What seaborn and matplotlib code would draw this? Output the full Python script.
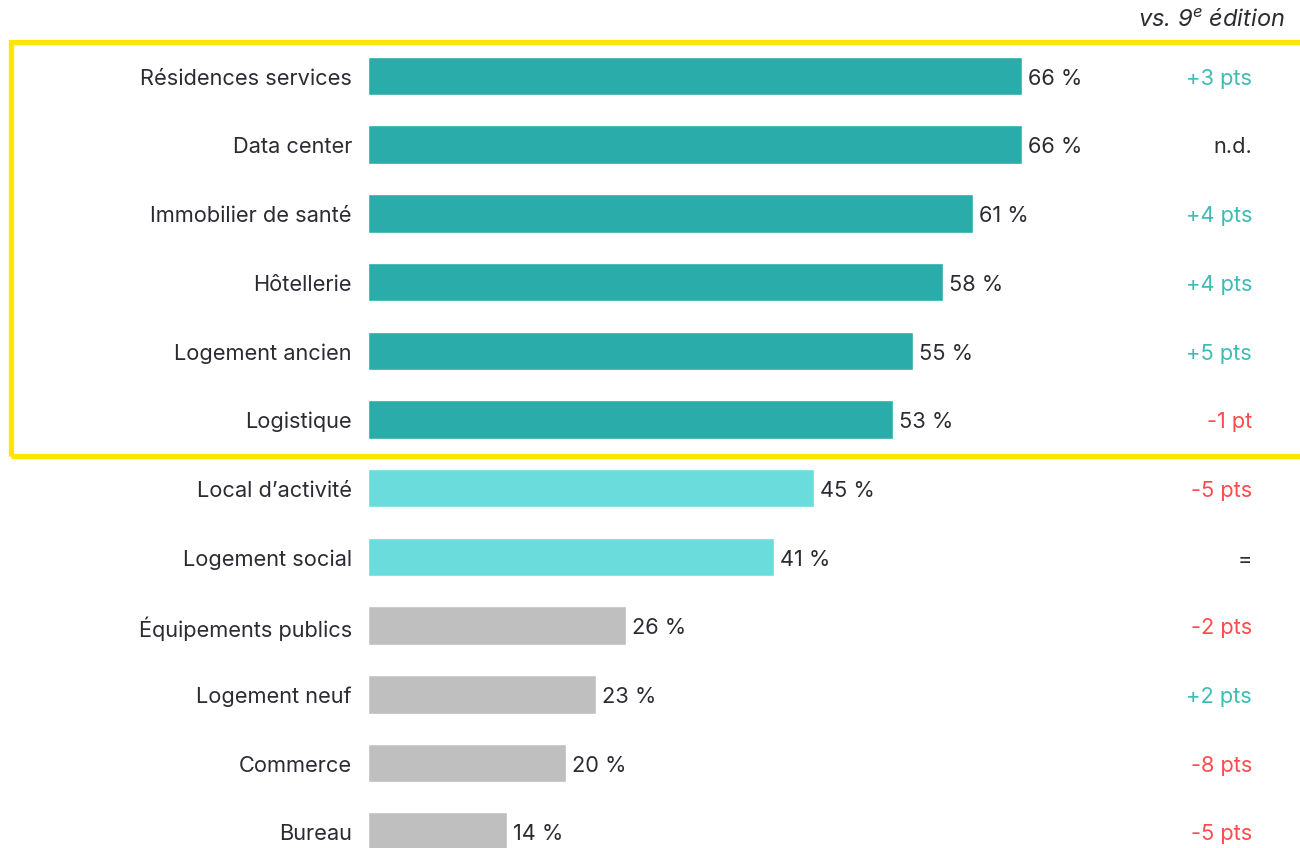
import matplotlib
matplotlib.use("Agg")
import matplotlib.pyplot as plt
from matplotlib.patches import Rectangle
import seaborn as sns
import pandas as pd

categories = [
    "Résidences services", "Data center", "Immobilier de santé", "Hôtellerie",
    "Logement ancien", "Logistique", "Local d\u2019activité", "Logement social",
    "Équipements publics", "Logement neuf", "Commerce", "Bureau",
]
values = [66, 66, 61, 58, 55, 53, 45, 41, 26, 23, 20, 14]
groups = ["top"] * 6 + ["mid"] * 2 + ["low"] * 4
deltas = ["+3 pts", "n.d.", "+4 pts", "+4 pts", "+5 pts", "-1 pt",
          "-5 pts", "=", "-2 pts", "+2 pts", "-8 pts", "-5 pts"]

palette = {"top": "#29ACAA", "mid": "#6ADCDC", "low": "#BFBFBF"}
TEXT = "#2B2B33"
POS = "#3DBBB5"
NEG = "#FF4B4B"

def delta_color(d):
    if d.startswith("+"):
        return POS
    if d.startswith("-"):
        return NEG
    return TEXT

df = pd.DataFrame({"cat": categories, "val": values, "grp": groups})

sns.set_theme(style="white")
plt.rcParams["font.family"] = ["Inter", "DejaVu Sans"]

W, H = 1300, 848
fig = plt.figure(figsize=(W / 100, H / 100), dpi=100)
ax = fig.add_axes([368 / W, 0, (W - 368) / W, 1])

sns.barplot(data=df, x="val", y="cat", hue="grp", palette=palette,
            dodge=False, legend=False, width=0.56, ax=ax, saturation=1)

px_per_unit = 9.91
step = 68.7
first = 76
ax.set_xlim(0, (W - 368) / px_per_unit)
ax.set_ylim((H - first) / step, -first / step)
ax.axis("off")

fs = 15.7
dy = 0.04
for i, (c, v, d) in enumerate(zip(categories, values, deltas)):
    ax.text(-16 / px_per_unit, i + dy, c, ha="right", va="center",
            fontsize=fs, color=TEXT, clip_on=False)
    ax.text(v + 6 / px_per_unit, i + dy, f"{v} %", ha="left", va="center",
            fontsize=fs, color=TEXT)
    ax.text((1252 - 368) / px_per_unit, i + dy, d, ha="right", va="center",
            fontsize=fs, color=delta_color(d))

fig.text(1285 / W, 1 - 21 / H, r"vs. 9$^{\mathregular{e}}$ édition",
         ha="right", va="center", fontsize=17, style="italic", color=TEXT)

# highlight frame around the leading segments
fig.patches.append(Rectangle((11 / W, 1 - 456 / H), (W + 20 - 11) / W,
                             (456 - 42) / H, transform=fig.transFigure,
                             fill=False, edgecolor="#FFE500", linewidth=3.8,
                             zorder=5))

fig.savefig("out.png", dpi=100, facecolor="white")
